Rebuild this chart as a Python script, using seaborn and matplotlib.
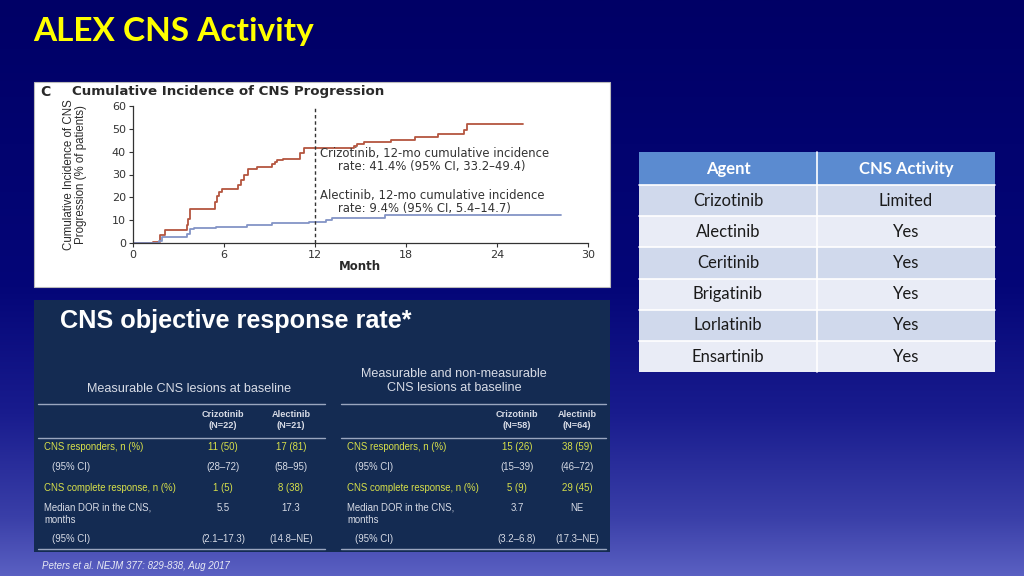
import numpy as np
import seaborn as sns
import matplotlib.pyplot as plt
from matplotlib.colors import LinearSegmentedColormap
from matplotlib.patches import Rectangle

# ---- data: cumulative incidence of CNS progression
criz_month = [0, 1.35, 1.75, 2.1, 3.55, 3.65, 3.77, 5.4, 5.55, 5.7, 5.85, 6.95, 7.15, 7.35, 7.6,
              8.15, 9.15, 9.35, 9.5, 9.9, 11.0, 11.3, 14.6, 14.8, 15.2, 17.0, 18.6, 20.1, 21.8,
              22.0, 25.7]
criz_pct = [0, 0.5, 3.4, 5.5, 8.0, 10.5, 14.9, 18.0, 20.5, 22.5, 23.8, 25.5, 27.5, 30.0, 32.4,
            33.1, 34.5, 35.5, 36.2, 36.6, 39.5, 41.4, 42.5, 43.5, 44.3, 45.3, 46.6, 47.9, 49.5,
            51.9, 51.9]
alec_month = [0, 1.7, 1.9, 3.55, 3.77, 4.0, 5.5, 7.5, 9.15, 11.6, 12.7, 13.1, 16.6, 28.2]
alec_pct = [0, 1.0, 2.5, 4.0, 6.1, 6.5, 7.0, 7.7, 8.6, 9.4, 10.0, 10.8, 12.4, 12.4]
x_ticks = [0, 6, 12, 18, 24, 30]
y_ticks = [0, 10, 20, 30, 40, 50, 60]

# ---- data: CNS activity table
agents = ["Crizotinib", "Alectinib", "Ceritinib", "Brigatinib", "Lorlatinib", "Ensartinib"]
cns_activity = ["Limited", "Yes", "Yes", "Yes", "Yes", "Yes"]

# ---- data: CNS objective response rate
row_labels = ["CNS responders, n (%)", "(95% CI)", "CNS complete response, n (%)",
              "Median DOR in the CNS,\nmonths", "(95% CI)"]
meas_criz = ["11 (50)", "(28–72)", "1 (5)", "5.5", "(2.1–17.3)"]
meas_alec = ["17 (81)", "(58–95)", "8 (38)", "17.3", "(14.8–NE)"]
all_criz = ["15 (26)", "(15–39)", "5 (9)", "3.7", "(3.2–6.8)"]
all_alec = ["38 (59)", "(46–72)", "29 (45)", "NE", "(17.3–NE)"]
col_heads_meas = ["Crizotinib\n(N=22)", "Alectinib\n(N=21)"]
col_heads_all = ["Crizotinib\n(N=58)", "Alectinib\n(N=64)"]

sns.set_theme(style="white")
plt.rcParams['font.family'] = ['DejaVu Sans']

fig = plt.figure(figsize=(10.24, 5.76), dpi=100)

# full-figure overlay in pixel coordinates
bg = fig.add_axes([0, 0, 1, 1])
bg.set_xlim(0, 1024)
bg.set_ylim(576, 0)
bg.axis('off')

grad = LinearSegmentedColormap.from_list(
    'slide', [(0.0, '#000066'), (0.5, '#040678'), (0.72, '#191c8e'), (0.9, '#3a3fa8'), (1.0, '#5a60c2')])
bg.imshow(np.linspace(0, 1, 256).reshape(-1, 1), cmap=grad, aspect='auto',
          extent=[0, 1024, 576, 0], zorder=0)

bg.text(33, 31, "ALEX CNS Activity", color='#ffff00', fontsize=24, fontweight='bold',
        family=['Lato', 'DejaVu Sans'], ha='left', va='center')

# ---- KM panel
ink = '#2a2a2a'
bg.add_patch(Rectangle((34, 82), 576, 205, facecolor='white', edgecolor='#bbbbbb', lw=0.8, zorder=1))
bg.text(40, 92, "C", fontsize=10, fontweight='bold', color=ink, va='center', zorder=2)
bg.text(72, 92, "Cumulative Incidence of CNS Progression", fontsize=9.6, fontweight='bold',
        color=ink, va='center', zorder=2)
bg.text(75, 175, "Cumulative Incidence of CNS\nProgression (% of patients)", rotation=90,
        fontsize=8.3, color=ink, ha='center', va='center', linespacing=1.05,
        family=['Liberation Sans', 'DejaVu Sans'], zorder=2)
bg.text(360, 267, "Month", fontsize=8.5, fontweight='bold', color=ink, ha='center',
        va='center', zorder=2)

ax = fig.add_axes([133 / 1024, 1 - 243 / 576, 455 / 1024, 137 / 576])
ax.patch.set_alpha(0)
sns.lineplot(x=criz_month, y=criz_pct, drawstyle='steps-post', color='#b4553f', lw=1.3,
             estimator=None, sort=False, ax=ax)
sns.lineplot(x=alec_month, y=alec_pct, drawstyle='steps-post', color='#8494c6', lw=1.3,
             estimator=None, sort=False, ax=ax)
ax.axvline(12, color='#333333', ls=(0, (2.5, 2)), lw=1)
ax.set_xlim(0, 30)
ax.set_ylim(0, 60)
ax.set_xticks(x_ticks)
ax.set_yticks(y_ticks)
ax.tick_params(axis='both', direction='out', length=3, width=0.8, labelsize=8,
               colors='#333333', pad=2, bottom=True, left=True)
for s in ['top', 'right']:
    ax.spines[s].set_visible(False)
for s in ['left', 'bottom']:
    ax.spines[s].set_color('#333333')
    ax.spines[s].set_linewidth(0.9)
ax.set_xlabel('')
ax.set_ylabel('')
ann = dict(fontsize=8.4, color='#333333', va='center')
ax.text(12.3, 39.4, "Crizotinib, 12-mo cumulative incidence", **ann)
ax.text(13.5, 33.4, "rate: 41.4% (95% CI, 33.2\u201349.4)", **ann)
ax.text(12.3, 21.0, "Alectinib, 12-mo cumulative incidence", **ann)
ax.text(13.5, 15.0, "rate: 9.4% (95% CI, 5.4\u201314.7)", **ann)

# ---- CNS activity table
tx0, tx1, tx2 = 639, 817, 995
bg.add_patch(Rectangle((tx0, 152), tx2 - tx0, 33, facecolor='#5b8bd0', edgecolor='none', zorder=1))
bg.text((tx0 + tx1) / 2, 169, "Agent", color='white', fontsize=12, fontweight='bold',
        family=['Lato', 'DejaVu Sans'], ha='center', va='center', zorder=3)
bg.text((tx1 + tx2) / 2, 169, "CNS Activity", color='white', fontsize=12, fontweight='bold',
        family=['Lato', 'DejaVu Sans'], ha='center', va='center', zorder=3)
for i, (ag, act) in enumerate(zip(agents, cns_activity)):
    top = 185 + i * 31.2
    bg.add_patch(Rectangle((tx0, top), tx2 - tx0, 31.2, facecolor='#d0d9ec' if i % 2 == 0 else '#e9ecf6',
                           edgecolor='none', zorder=1))
    bg.plot([tx0, tx2], [top, top], color='white', lw=1.2, zorder=2)
    bg.text((tx0 + tx1) / 2, top + 15.6, ag, color='#1a1a1a', fontsize=12,
            family=['Lato', 'DejaVu Sans'], ha='center', va='center', zorder=3)
    bg.text((tx1 + tx2) / 2, top + 15.6, act, color='#1a1a1a', fontsize=12,
            family=['Lato', 'DejaVu Sans'], ha='center', va='center', zorder=3)
bg.plot([tx1, tx1], [152, 372], color='white', lw=1.2, zorder=2)

# ---- CNS objective response rate panel
arial = ['Liberation Sans', 'DejaVu Sans']
bg.add_patch(Rectangle((34, 300), 576, 252, facecolor='#142b52', edgecolor='none', zorder=1))
bg.text(60, 321, "CNS objective response rate*", color='white', fontsize=18.2, fontweight='bold',
        family=arial, ha='left', va='center', zorder=3)
sub_col = '#d8dce6'
hl_col = '#d7e04a'
bg.text(189, 389, "Measurable CNS lesions at baseline", color=sub_col, fontsize=9.1,
        family=arial, ha='center', va='center', zorder=3)
bg.text(454, 381, "Measurable and non-measurable\nCNS lesions at baseline", color=sub_col,
        fontsize=9.1, family=arial, ha='center', va='center', linespacing=1.15, zorder=3)

blocks = [
    (38, 325, 44, 52, [223, 291], col_heads_meas, [meas_criz, meas_alec]),
    (341, 606, 347, 355, [517, 577], col_heads_all, [all_criz, all_alec]),
]
row_y = [447, 467, 488, 514, 539]
for x0, x1, lx, ix, cx, heads, cols in blocks:
    for yl in [404, 438, 549]:
        bg.plot([x0, x1], [yl, yl], color='#9aa6bf', lw=1.0, zorder=2)
    for c, h in zip(cx, heads):
        bg.text(c, 420, h, color=sub_col, fontsize=6.6, fontweight='bold', family=arial,
                ha='center', va='center', linespacing=1.2, zorder=3)
    for r, lab in enumerate(row_labels):
        colr = hl_col if r in (0, 2) else sub_col
        bg.text(ix if lab.startswith('(') else lx, row_y[r], lab, color=colr, fontsize=6.9,
                family=arial, ha='left', va='center', linespacing=1.35, zorder=3)
        for c, vals in zip(cx, cols):
            vy = row_y[r] - 6 if r == 3 else row_y[r]
            bg.text(c, vy, vals[r], color=colr, fontsize=6.9, family=arial,
                    ha='center', va='center', zorder=3)

bg.text(42, 566, "Peters et al. NEJM 377: 829-838, Aug 2017", color='#e8eaf4', fontsize=7,
        style='italic', family=arial, ha='left', va='center', zorder=3)

fig.savefig('out.png', dpi=100)
